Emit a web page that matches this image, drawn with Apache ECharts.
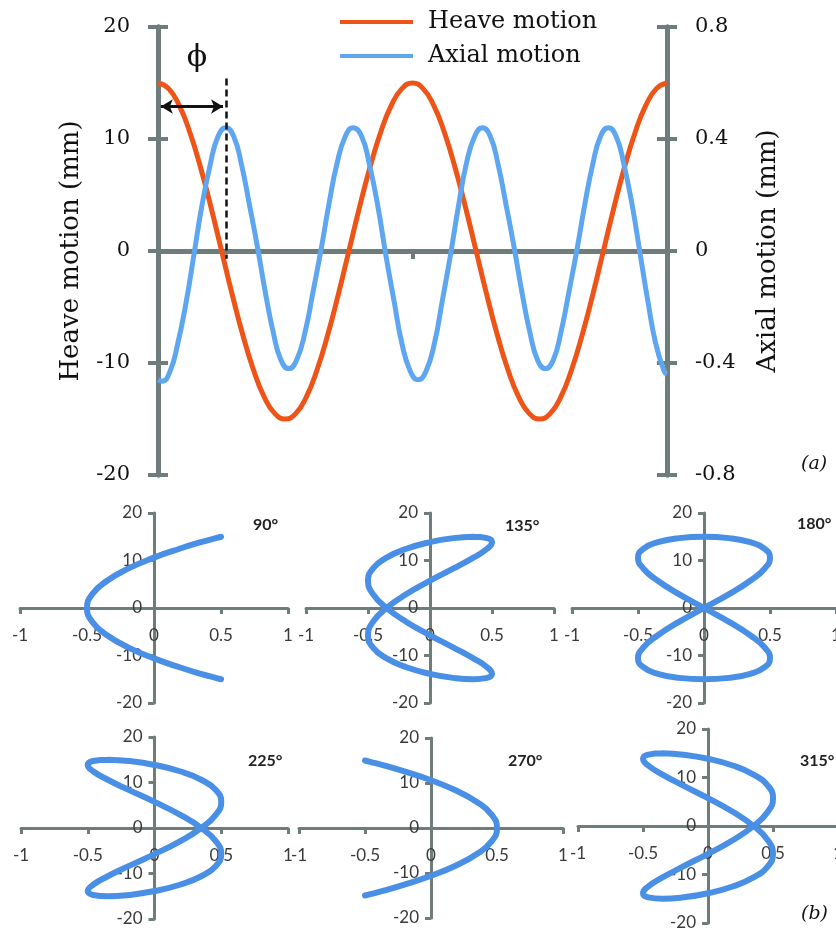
<!DOCTYPE html>
<html>
<head>
<meta charset="utf-8">
<script src="https://cdn.jsdelivr.net/npm/echarts@6/dist/echarts.min.js"></script>
<style>
  html, body { margin: 0; padding: 0; background: #fff; }
  #chart { width: 836px; height: 932px; }
</style>
</head>
<body>
<div id="chart"></div>
<script>
// (a) time history, x = phase in degrees over two heave cycles
const heavePhase = [0,15,30,45,60,75,90,105,120,135,150,165,180,195,210,225,240,255,270,285,300,315,330,345,360,
  375,390,405,420,435,450,465,480,495,510,525,540,555,570,585,600,615,630,645,660,675,690,705,720];
const heaveMotion = [15,14.5,13,10.6,7.5,3.9,0,-3.9,-7.5,-10.6,-13,-14.5,-15,-14.5,-13,-10.6,-7.5,-3.9,0,3.9,7.5,10.6,13,14.5,15,
  14.5,13,10.6,7.5,3.9,0,-3.9,-7.5,-10.6,-13,-14.5,-15,-14.5,-13,-10.6,-7.5,-3.9,0,3.9,7.5,10.6,13,14.5,15];
const axialPhase = [0,6,17,28,40,51,62,74,85,96,
  107,118,129,141,152,163,174,185,
  196,208,219,231,242,253,265,276,
  288,299,311,322,334,345,357,368,
  379,391,402,414,425,436,448,459,
  470,481,492,504,515,526,537,548,
  559,570,581,593,604,615,626,637,
  648,659,671,682,693,704,716,720];
const axialMotion = [-0.46,-0.465,-0.43,-0.33,-0.18,-0.01,0.16,0.31,0.41,0.44,
  0.41,0.31,0.17,0.01,-0.15,-0.29,-0.39,-0.42,
  -0.39,-0.29,-0.15,0.01,0.17,0.31,0.41,0.44,
  0.41,0.31,0.16,-0.01,-0.18,-0.33,-0.43,-0.46,
  -0.43,-0.33,-0.18,-0.01,0.16,0.31,0.41,0.44,
  0.41,0.31,0.17,0.01,-0.15,-0.29,-0.39,-0.42,
  -0.39,-0.29,-0.15,0.01,0.17,0.31,0.41,0.44,
  0.41,0.31,0.16,-0.01,-0.18,-0.33,-0.43,-0.44];
const heaveTicks = [-20, -10, 0, 10, 20];
const axialTicks = [-0.8, -0.4, 0, 0.4, 0.8];

// (b) heave vs axial loops over one heave cycle
const heaveLoop = [15,14.71,13.86,12.47,10.61,8.33,5.74,2.93,0,-2.93,-5.74,-8.33,-10.61,-12.47,-13.86,-14.71,-15,
  -14.71,-13.86,-12.47,-10.61,-8.33,-5.74,-2.93,0,2.93,5.74,8.33,10.61,12.47,13.86,14.71,15];
const axial90  = [0.5,0.46,0.35,0.19,0,-0.19,-0.35,-0.46,-0.5,-0.46,-0.35,-0.19,0,0.19,0.35,0.46,0.5,
  0.46,0.35,0.19,0,-0.19,-0.35,-0.46,-0.5,-0.46,-0.35,-0.19,0,0.19,0.35,0.46,0.5];
const axial135 = [0.35,0.46,0.5,0.46,0.35,0.19,0,-0.19,-0.35,-0.46,-0.5,-0.46,-0.35,-0.19,0,0.19,0.35,
  0.46,0.5,0.46,0.35,0.19,0,-0.19,-0.35,-0.46,-0.5,-0.46,-0.35,-0.19,0,0.19,0.35];
const axial180 = [0,0.19,0.35,0.46,0.5,0.46,0.35,0.19,0,-0.19,-0.35,-0.46,-0.5,-0.46,-0.35,-0.19,0,
  0.19,0.35,0.46,0.5,0.46,0.35,0.19,0,-0.19,-0.35,-0.46,-0.5,-0.46,-0.35,-0.19,0];
const axial225 = [-0.35,-0.19,0,0.19,0.35,0.46,0.5,0.46,0.35,0.19,0,-0.19,-0.35,-0.46,-0.5,-0.46,-0.35,
  -0.19,0,0.19,0.35,0.46,0.5,0.46,0.35,0.19,0,-0.19,-0.35,-0.46,-0.5,-0.46,-0.35];
const axial270 = [-0.5,-0.46,-0.35,-0.19,0,0.19,0.35,0.46,0.5,0.46,0.35,0.19,0,-0.19,-0.35,-0.46,-0.5,
  -0.46,-0.35,-0.19,0,0.19,0.35,0.46,0.5,0.46,0.35,0.19,0,-0.19,-0.35,-0.46,-0.5];
const axial315 = [-0.35,-0.19,0,0.19,0.35,0.46,0.5,0.46,0.35,0.19,0,-0.19,-0.35,-0.46,-0.5,-0.46,-0.35,
  -0.19,0,0.19,0.35,0.46,0.5,0.46,0.35,0.19,0,-0.19,-0.35,-0.46,-0.5,-0.46,-0.35];
const loopLabels = ['90°', '135°', '180°', '225°', '270°', '315°'];
const loopAxial = [axial90, axial135, axial180, axial225, axial270, axial315];
const loopXTicks = [-1, -0.5, 0, 0.5, 1];
const loopYTicks = [-20, -10, 0, 10, 20];

const GRAY = '#6e7c7c';
const ORANGE = '#ee5418';
const BLUE_A = '#5ea6f0';
const BLUE_B = '#4a8fe6';
const SERIF = 'DejaVu Serif';
const SANS = 'Lato';

// pixel boxes of the six small plots (left, top, width, height)
const boxes = [
  [20, 513, 268, 190], [306, 513, 248, 190], [572, 513, 264, 190],
  [21, 737, 267, 182], [299, 738, 264, 180], [578, 729, 260, 194]
];
const labelPos = [[253, 517], [505, 518], [797, 516], [248, 753], [508, 753], [800, 753]];

const chart = echarts.init(document.getElementById('chart'));

const grids = [{ left: 158, top: 27, width: 509, height: 448, outerBoundsMode: 'none' }];
const xAxes = [];
const yAxes = [];
const series = [];

// top panel axes; a second copy of each axis draws the inner half of the cross ticks
const topX = (inside) => ({
  type: 'value', gridIndex: 0, min: 0, max: 720, interval: 360,
  axisLine: { show: true, onZero: false, lineStyle: { color: GRAY, width: 5 } },
  offset: -224,
  axisTick: { show: true, inside: inside, length: 8, lineStyle: { color: GRAY, width: 4 } },
  axisLabel: { show: false }, splitLine: { show: false }
});
xAxes.push(topX(false), topX(true));

const topY = (pos, ticks, inside, name, showLabel) => ({
  type: 'value', gridIndex: 0, position: pos,
  min: ticks[0], max: ticks[ticks.length - 1], interval: ticks[1] - ticks[0],
  name: name, nameLocation: 'middle', nameRotate: 90, nameGap: pos === 'left' ? 74 : 88,
  nameTextStyle: { fontFamily: SERIF, fontSize: 26, color: '#111' },
  axisLine: { show: true, onZero: false, lineStyle: { color: GRAY, width: 5 } },
  axisTick: { show: true, inside: inside, length: 10, lineStyle: { color: GRAY, width: 4 } },
  axisLabel: { show: showLabel, margin: 28, fontFamily: SERIF, fontSize: 21, color: '#111' },
  splitLine: { show: false }
});
yAxes.push(
  topY('left', heaveTicks, false, 'Heave motion (mm)', true),
  topY('right', axialTicks, false, 'Axial motion (mm)', true),
  topY('left', heaveTicks, true, '', false),
  topY('right', axialTicks, true, '', false)
);

series.push({
  type: 'line', name: 'Heave motion', xAxisIndex: 0, yAxisIndex: 0,
  data: heavePhase.map((d, i) => [d, heaveMotion[i]]),
  smooth: true, symbol: 'none', z: 3,
  lineStyle: { color: ORANGE, width: 5 }, itemStyle: { color: ORANGE },
  markLine: {
    silent: true, symbol: ['none', 'none'], label: { show: false },
    data: [
      [{ coord: [96, 15.4], lineStyle: { type: [7, 4], color: '#111', width: 2.5 } }, { coord: [96, -0.7] }],
      [{ coord: [4, 12.9], symbol: 'arrow', symbolSize: [11, 12], lineStyle: { type: 'solid', color: '#111', width: 3 } },
       { coord: [92, 12.9], symbol: 'arrow', symbolSize: [11, 12] }]
    ]
  },
  markPoint: {
    silent: true,
    data: [{ coord: [55, 17.2], symbol: 'circle', symbolSize: 1, itemStyle: { color: 'rgba(0,0,0,0)' },
      label: { show: true, position: 'inside', formatter: 'ϕ', fontFamily: SERIF, fontSize: 30, color: '#111' } }]
  }
});
series.push({
  type: 'line', name: 'Axial motion', xAxisIndex: 0, yAxisIndex: 1,
  data: axialPhase.map((d, i) => [d, axialMotion[i]]),
  smooth: true, symbol: 'none', z: 4,
  lineStyle: { color: BLUE_A, width: 5 }, itemStyle: { color: BLUE_A }
});

// bottom panels: axes pulled into the middle of each box so they cross at zero
const titles = [];
boxes.forEach((b, k) => {
  grids.push({ left: b[0], top: b[1], width: b[2], height: b[3], outerBoundsMode: 'none' });
  xAxes.push({
    type: 'value', gridIndex: k + 1, offset: -b[3] / 2,
    min: loopXTicks[0], max: loopXTicks[loopXTicks.length - 1], interval: loopXTicks[1] - loopXTicks[0],
    axisLine: { onZero: false, lineStyle: { color: GRAY, width: 3 } },
    axisTick: { show: true, length: 6, lineStyle: { color: GRAY, width: 3 } },
    axisLabel: { margin: 19, fontFamily: SANS, fontSize: 17, color: '#3a3a3a' },
    splitLine: { show: false }
  });
  yAxes.push({
    type: 'value', gridIndex: k + 1, offset: -b[2] / 2,
    min: loopYTicks[0], max: loopYTicks[loopYTicks.length - 1], interval: loopYTicks[1] - loopYTicks[0],
    axisLine: { onZero: false, lineStyle: { color: GRAY, width: 3 } },
    axisTick: { show: true, length: 6, lineStyle: { color: GRAY, width: 3 } },
    axisLabel: { margin: 12, fontFamily: SANS, fontSize: 17, color: '#3a3a3a' },
    splitLine: { show: false }
  });
  series.push({
    type: 'line', xAxisIndex: k + 2, yAxisIndex: k + 4,
    data: loopAxial[k].map((x, i) => [x, heaveLoop[i]]),
    smooth: true, symbol: 'none',
    lineStyle: { color: BLUE_B, width: 6, cap: 'round', join: 'round' }
  });
  titles.push({
    text: loopLabels[k], left: labelPos[k][0], top: labelPos[k][1], padding: 0,
    textStyle: { fontFamily: SANS, fontSize: 16, fontWeight: 'bold', color: '#222' }
  });
});
titles.push(
  { text: '(a)', left: 801, top: 455, padding: 0, textStyle: { fontFamily: SERIF, fontStyle: 'italic', fontWeight: 'normal', fontSize: 19, color: '#111' } },
  { text: '(b)', left: 801, top: 905, padding: 0, textStyle: { fontFamily: SERIF, fontStyle: 'italic', fontWeight: 'normal', fontSize: 19, color: '#111' } }
);

chart.setOption({
  animation: false,
  backgroundColor: '#fff',
  title: titles,
  legend: {
    data: ['Heave motion', 'Axial motion'],
    orient: 'vertical', left: 340, top: 7, padding: 0,
    icon: 'rect', itemWidth: 73, itemHeight: 4, itemGap: 4,
    textStyle: { fontFamily: SERIF, fontSize: 24, color: '#111', lineHeight: 30, padding: [0, 0, 0, 10] }
  },
  grid: grids,
  xAxis: xAxes,
  yAxis: yAxes,
  series: series
});
</script>
</body>
</html>
